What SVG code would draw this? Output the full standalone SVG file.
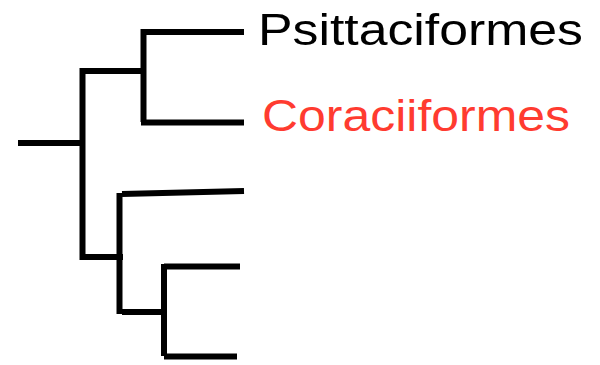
<svg xmlns="http://www.w3.org/2000/svg" width="600" height="365" viewBox="0 0 600 365">
<style>
.br{fill:none;stroke:#000;stroke-width:6;stroke-linecap:butt}
.lbl{font-family:"Liberation Sans","DejaVu Sans",sans-serif;font-size:45px}
</style>
<rect width="600" height="365" fill="#fff"/>
<g id="connectors">
<path class="br" d="M18 143H83"/>
<path class="br" d="M82.5 68V260"/>
<path class="br" d="M80 71H143"/>
<path class="br" d="M143.5 29V122"/>
<path class="br" d="M141 32H244"/>
<path class="br" d="M141 122.5H244"/>
<path class="br" d="M80 257H123"/>
<path class="br" d="M119.5 193V314"/>
<path class="br" d="M122 194L244 191"/>
<path class="br" d="M122 312H164"/>
<path class="br" d="M164 264V356"/>
<path class="br" d="M164 266.5H240"/>
<path class="br" d="M164 356.5H237"/>
</g>
<g id="node-psittaciformes">
<text class="lbl" x="258" y="45" textLength="325" lengthAdjust="spacingAndGlyphs" fill="#000">Psittaciformes</text>
</g>
<g id="node-coraciiformes">
<text class="lbl" x="262" y="131" textLength="308" lengthAdjust="spacingAndGlyphs" fill="#ff3b30">Coraciiformes</text>
</g>
</svg>
